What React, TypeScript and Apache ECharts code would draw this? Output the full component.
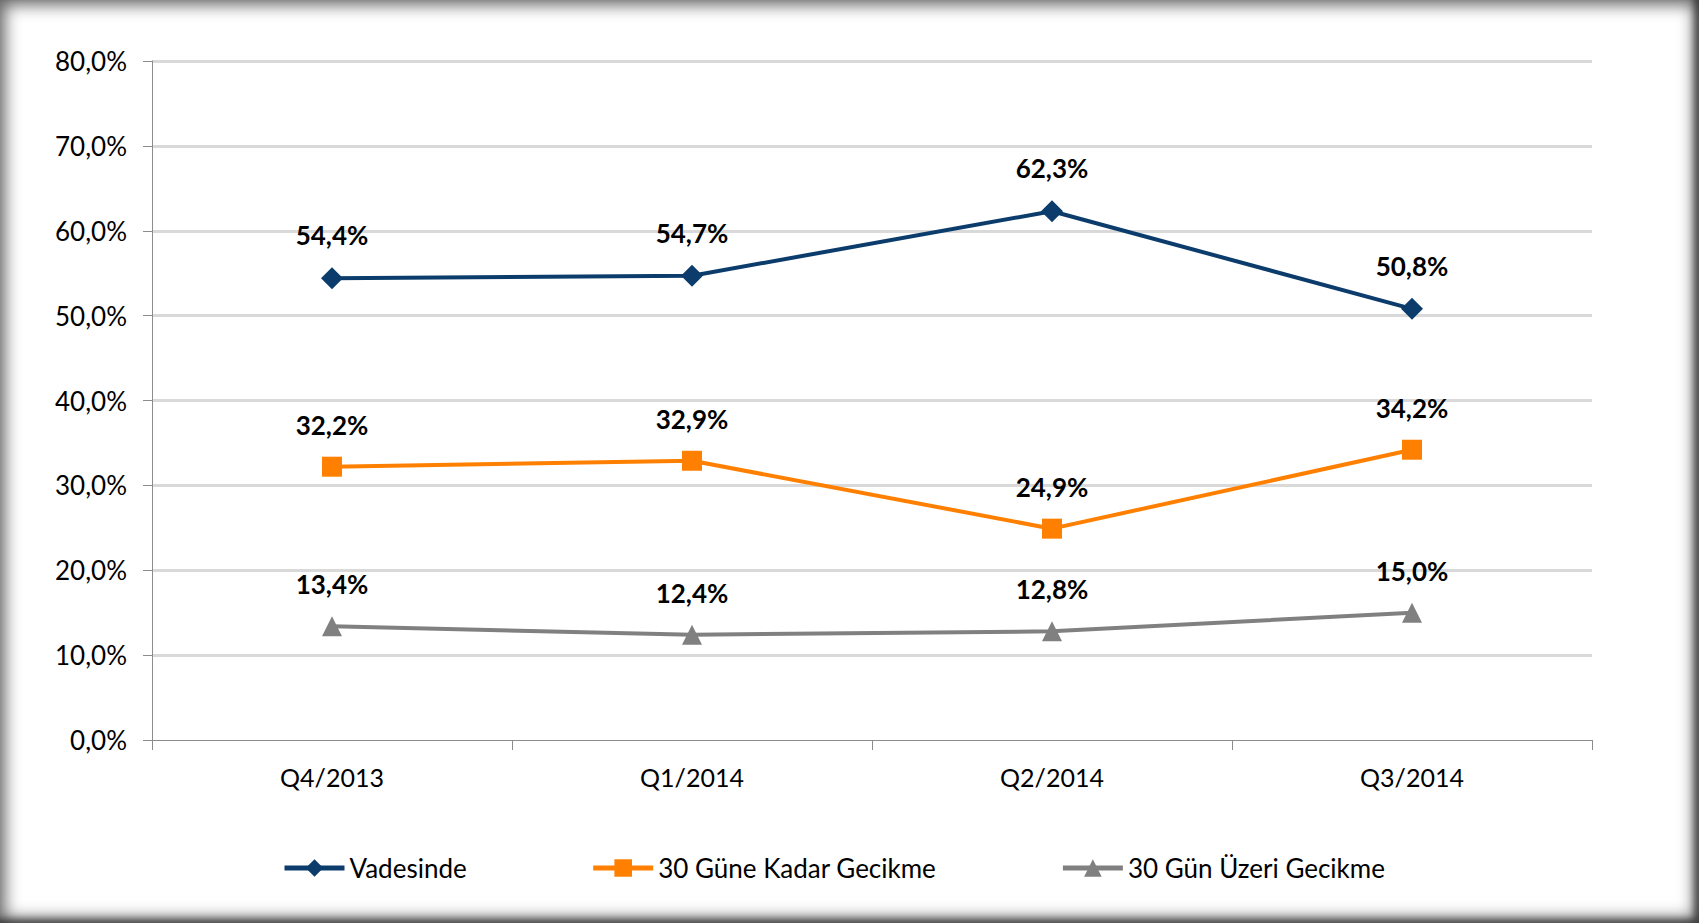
import React, { useEffect, useRef } from "react";
import * as echarts from "echarts";

const categories = ["Q4/2013", "Q1/2014", "Q2/2014", "Q3/2014"];
const vadesinde = [54.4, 54.7, 62.3, 50.8];
const gun30Kadar = [32.2, 32.9, 24.9, 34.2];
const gun30Uzeri = [13.4, 12.4, 12.8, 15.0];
const seriesNames = ["Vadesinde", "30 Güne Kadar Gecikme", "30 Gün Üzeri Gecikme"];

const fmt = (v: number) => v.toFixed(1).replace(".", ",") + "%";
const FONT = "Lato, 'Noto Sans', sans-serif";

export default function App() {
  const ref = useRef<HTMLDivElement>(null);
  useEffect(() => {
    document.body.style.margin = "0";
    const chart = echarts.init(ref.current!, null, { renderer: "svg" });
    const label = {
      show: true,
      position: "top" as const,
      distance: 19,
      fontFamily: FONT,
      fontWeight: "bold" as const,
      fontSize: 26,
      color: "#000",
      formatter: (p: any) => fmt(p.value),
    };
    const mk = (name: string, data: number[], color: string, symbol: string, size: number) => ({
      name,
      type: "line",
      data,
      symbol,
      symbolSize: size,
      lineStyle: { color, width: 4 },
      itemStyle: { color },
      label,
    });
    chart.setOption({
      animation: false,
      grid: { left: 152, right: 107, top: 61, bottom: 183 },
      legend: {
        left: 277,
        top: 850,
        itemWidth: 60,
        itemHeight: 22,
        itemGap: 124,
        lineStyle: { width: 5 },
        textStyle: { fontFamily: FONT, fontSize: 26, color: "#000" },
        data: seriesNames,
      },
      xAxis: {
        type: "category",
        data: categories,
        boundaryGap: true,
        axisLine: { lineStyle: { color: "#8c8c8c", width: 1 } },
        axisTick: { show: true, length: 10, lineStyle: { color: "#8c8c8c" } },
        axisLabel: { fontFamily: FONT, fontSize: 25, color: "#000", margin: 24 },
      },
      yAxis: {
        type: "value",
        min: 0,
        max: 80,
        interval: 10,
        axisLine: { show: true, lineStyle: { color: "#8c8c8c", width: 1 } },
        axisTick: { show: true, length: 9, lineStyle: { color: "#8c8c8c" } },
        axisLabel: { fontFamily: FONT, fontSize: 26, color: "#000", margin: 25, formatter: (v: number) => fmt(v) },
        splitLine: { show: true, showMinLine: false, lineStyle: { color: "#d9d9d9", width: 3 } },
      },
      series: [
        mk(seriesNames[0], vadesinde, "#0B3C6C", "diamond", 22),
        mk(seriesNames[1], gun30Kadar, "#FF8000", "rect", 20),
        mk(seriesNames[2], gun30Uzeri, "#808080", "triangle", 20),
      ],
    });
    return () => chart.dispose();
  }, []);
  return (
    <div
      style={{
        position: "fixed",
        left: 0,
        top: 0,
        width: 1699,
        height: 923,
        background: "#fff",
        boxShadow: "inset 0 0 16px 5px rgba(0,0,0,0.6), inset -5px -4px 6px rgba(0,0,0,0.45)",
      }}
    >
      <div ref={ref} style={{ width: 1699, height: 923 }} />
    </div>
  );
}
